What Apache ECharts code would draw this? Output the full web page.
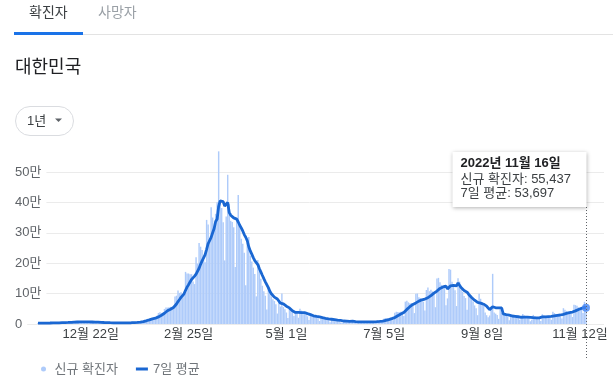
<!DOCTYPE html>
<html><head><meta charset="utf-8">
<script src="https://cdn.jsdelivr.net/npm/echarts@6/dist/echarts.min.js"></script>
<style>html,body{margin:0;padding:0;background:#fff}#c{width:613px;height:385px}</style>
</head><body><div id="c"></div>
<script>
// ---- Data (daily new cases, 2021-11-17 .. 2022-11-16) ----
const startDate = [2021, 11, 17];
const casesNov2021 = [3187, 3292, 3034, 3206, 2827, 2699, 2827, 4116, 3938, 3901, 4068, 3928, 3309, 3032];
const casesDec2021 = [5123, 5266, 4944, 5352, 5128, 4325, 4954, 7175, 7102, 7022, 6977, 6689, 5817, 5567, 7850, 7622, 7435, 7314, 6236, 5318, 5202, 7456, 6919, 6233, 5842, 5419, 4207, 3865, 5409, 4875, 5035];
const casesJan2022 = [4416, 3833, 3129, 3022, 4444, 4126, 3713, 3376, 3371, 3007, 3094, 4388, 4167, 4542, 4130, 4193, 3857, 4071, 5805, 6603, 6769, 7009, 7630, 7513, 8571, 13012, 14518, 16096, 17542, 17079, 18341];
const casesFeb2022 = [20270, 20908, 22907, 27443, 36362, 38691, 35286, 36717, 49567, 54122, 53926, 54941, 56431, 54619, 57177, 90443, 93135, 109831, 102211, 104829, 95362, 99573, 171452, 165890, 166209, 163566, 163865, 139626];
const casesMar2022 = [131421, 219241, 198803, 266853, 254327, 243628, 210716, 202721, 342446, 327549, 282987, 383665, 350190, 309790, 362338, 400741, 621328, 407017, 381454, 334708, 209169, 353980, 490881, 395598, 339514, 335580, 318130, 187213, 347554, 424641, 320743];
const casesApr2022 = [280273, 264171, 234301, 127190, 266135, 286294, 224820, 205333, 185566, 164481, 90928, 210755, 195419, 148443, 125846, 107916, 93001, 47743, 118504, 111319, 90867, 81058, 75449, 64725, 34370, 76787, 57464, 100000, 55507, 48771];
const casesMay2022 = [37771, 20084, 51131, 49064, 42296, 26714, 40064, 38570, 20601, 49933, 43925, 35906, 32451, 29581, 25434, 13296, 35117, 28130, 25125, 23956, 22335, 19293, 9975, 23425, 20993, 18798, 16584, 17191, 12654, 6143, 17182];
const casesJun2022 = [15782, 13358, 9896, 12542, 10060, 5022, 4742, 13338, 12155, 10009, 8440, 8828, 3823, 7382, 9434, 7995, 7198, 6253, 6068, 3530, 9313, 8979, 7488, 7237, 6781, 6241, 3423, 9891, 9594, 10463];
const casesJul2022 = [9528, 10715, 10059, 6252, 18147, 19371, 18511, 19323, 20410, 20286, 12693, 37360, 40266, 39194, 38882, 40342, 41310, 26299, 73582, 76402, 71170, 68632, 68551, 65433, 35883, 99327, 100285, 88384, 85286, 81995, 73589];
const casesAug2022 = [44689, 111789, 119922, 107894, 112901, 107310, 105507, 55292, 149897, 151792, 137241, 128714, 124592, 119603, 62078, 84128, 180803, 178574, 138812, 126666, 110666, 59046, 150802, 139339, 113371, 105493, 91802, 85295, 46824, 103961, 95604];
const casesSep2022 = [81573, 73952, 61000, 52000, 29000, 99800, 83000, 72000, 59000, 38000, 29000, 22000, 28000, 57000, 165000, 38000, 34000, 30000, 17000, 47000, 37000, 30000, 29000, 27000, 24000, 12000, 32000, 30000, 26000, 25000];
const casesOct2022 = [23000, 19000, 14000, 18000, 33000, 28000, 24000, 22000, 19000, 9000, 14000, 30000, 26000, 23000, 22000, 19000, 10000, 32000, 29000, 27000, 26000, 25000, 21000, 14000, 40000, 36000, 33000, 31000, 29000, 24000, 18000];
const casesNov2022 = [52000, 47000, 43000, 40000, 38000, 33000, 23000, 63000, 62000, 60000, 55000, 50000, 46000, 36000, 72873, 55437];

// ---- 7-day average ----
const avgNov2021 = [2700, 2750, 2800, 2850, 2900, 2950, 3010, 3143, 3235, 3359, 3482, 3640, 3727, 3756];
const avgDec2021 = [3900, 4090, 4239, 4422, 4593, 4739, 5013, 5306, 5569, 5865, 6098, 6321, 6534, 6621, 6718, 6792, 6851, 6899, 6834, 6763, 6711, 6655, 6554, 6383, 6172, 6056, 5897, 5706, 5413, 5121, 4950];
const avgJan2022 = [4746, 4519, 4365, 4245, 4107, 4000, 3811, 3662, 3596, 3579, 3589, 3581, 3587, 3705, 3813, 3930, 4051, 4191, 4393, 4741, 5059, 5470, 5961, 6483, 7126, 8156, 9287, 10619, 12124, 13474, 15021];
const avgFeb2022 = [16692, 17820, 19018, 20639, 23328, 26415, 28836, 31186, 35280, 39739, 43522, 46176, 48710, 51472, 54395, 60234, 65807, 73793, 80546, 87460, 93280, 99337, 110910, 121304, 129358, 138123, 146557, 152880];
const avgMar2022 = [157430, 164257, 168959, 183337, 196303, 207698, 217854, 228040, 245641, 264033, 266338, 284815, 300038, 314191, 336993, 345321, 387289, 405008, 404692, 402480, 388106, 386912, 399789, 367542, 357899, 351346, 348978, 345841, 344923, 335460, 324766];
const avgApr2022 = [316303, 306102, 294126, 285551, 273920, 254156, 240453, 229747, 218518, 208544, 203364, 195453, 182471, 171560, 160205, 149112, 138901, 132732, 119553, 107539, 99314, 92916, 88278, 84239, 82329, 76369, 68675, 69980, 66330, 62519];
const avgMay2022 = [58668, 56627, 52962, 51762, 43518, 39405, 38161, 38275, 38349, 38178, 37444, 36531, 37351, 35853, 33976, 32932, 30815, 28559, 27019, 25805, 24770, 23893, 23419, 21749, 20729, 19825, 18772, 18037, 17089, 16542, 15650];
const avgJun2022 = [14906, 14129, 13174, 12510, 12139, 11979, 10202, 9853, 9681, 9697, 9111, 8935, 8764, 9141, 8583, 7989, 7587, 7275, 6881, 6839, 7115, 7050, 6978, 6984, 7059, 7084, 7069, 7152, 7240, 7665];
const avgJul2022 = [7992, 8554, 9099, 9503, 10682, 12079, 13229, 14628, 16013, 17474, 18394, 21139, 24124, 27079, 29873, 32720, 35723, 37667, 42842, 48004, 52572, 56822, 60852, 64298, 65667, 69345, 72757, 75216, 77595, 79516, 80681];
const avgAug2022 = [81939, 83719, 86524, 89311, 93256, 96872, 101432, 102947, 108391, 112944, 117136, 119395, 121864, 123878, 124847, 115451, 119595, 125500, 126943, 127239, 125962, 125529, 135054, 129131, 119816, 115056, 110075, 106451, 104705, 98013, 91765];
const avgSep2022 = [87222, 82716, 78316, 73560, 71014, 70420, 68619, 67251, 65115, 61829, 58543, 57543, 47286, 43572, 56858, 53858, 53287, 53430, 52716, 55430, 52573, 33287, 32001, 31001, 30144, 29430, 27287, 26287, 25716, 25145];
const avgOct2022 = [24574, 23860, 24146, 22146, 22575, 22861, 22718, 22575, 22575, 21861, 21290, 20861, 20575, 20432, 20432, 20432, 20575, 23146, 23003, 23146, 23575, 24004, 24290, 24861, 26004, 27004, 27861, 28575, 29146, 29575, 30146];
const avgNov2022 = [31860, 33431, 34860, 36146, 37432, 38718, 39432, 41003, 43146, 45575, 47718, 49432, 51289, 53146, 54556, 53697];

const tickLabels = ['12월 22일', '2월 25일', '5월 1일', '7월 5일', '9월 8일', '11월 12일'];
const yTicks = [0, 100000, 200000, 300000, 400000, 500000];
const seriesNames = ['신규 확진자', '7일 평균'];

const cases = [].concat(casesNov2021, casesDec2021, casesJan2022, casesFeb2022, casesMar2022, casesApr2022,
  casesMay2022, casesJun2022, casesJul2022, casesAug2022, casesSep2022, casesOct2022, casesNov2022);
const avg = [].concat(avgNov2021, avgDec2021, avgJan2022, avgFeb2022, avgMar2022, avgApr2022,
  avgMay2022, avgJun2022, avgJul2022, avgAug2022, avgSep2022, avgOct2022, avgNov2022);

const dates = cases.map((_, i) => new Date(startDate[0], startDate[1] - 1, startDate[2] + i));
const categories = dates.map(d => (d.getMonth() + 1) + '월 ' + d.getDate() + '일');
const last = cases.length - 1;

const FONT = '"Liberation Sans", Arial, "Noto Sans CJK KR", sans-serif';
const YMAX = 568000;
const GTOP = 151.33, GBOTTOM = 61;

const chart = echarts.init(document.getElementById('c'), null, {renderer: 'canvas'});

const option = {
  animation: false,
  textStyle: {fontFamily: FONT},
  grid: [
    {left: 15, right: 9, top: GTOP, bottom: GBOTTOM},
    {left: 37.25, right: 26.25, top: GTOP, bottom: GBOTTOM}
  ],
  legend: {
    left: 36, top: 357.5, itemWidth: 12, itemHeight: 5, itemGap: 18,
    selectedMode: false,
    textStyle: {fontSize: 13, color: '#70757a', fontFamily: FONT},
    data: [
      {name: seriesNames[0], icon: 'circle'},
      {name: seriesNames[1], icon: 'path://M0,0H12V3H0Z'}
    ]
  },
  xAxis: [
    {gridIndex: 0, type: 'value', show: false, min: 0, max: 1},
    {gridIndex: 1, type: 'category', data: categories, boundaryGap: true,
      axisLine: {show: false}, axisTick: {show: false},
      axisLabel: {interval: (i, v) => tickLabels.includes(v), color: '#3c4043', fontSize: 13, margin: 4, fontFamily: FONT},
      splitLine: {show: false}}
  ],
  yAxis: [
    {gridIndex: 0, type: 'value', min: 0, max: YMAX, interval: 100000,
      axisLabel: {show: false}, axisLine: {show: false}, axisTick: {show: false},
      splitLine: {show: true, showMaxLine: false, lineStyle: {color: '#ebebeb', width: 1}}},
    {gridIndex: 1, type: 'value', min: 0, max: YMAX, interval: 100000, z: 3,
      axisLine: {show: false}, axisTick: {show: false}, splitLine: {show: false},
      axisLabel: {align: 'left', margin: 22.25, fontSize: 13, color: '#5f6368', fontFamily: FONT,
        showMaxLabel: false, backgroundColor: '#fff', padding: [2, 5, 2, 0],
        formatter: v => yTicks.includes(v) ? (v === 0 ? '0' : (v / 10000) + '만') : ''}}
  ],
  series: [
    {name: seriesNames[0], type: 'bar', xAxisIndex: 1, yAxisIndex: 1, data: cases,
      itemStyle: {color: '#aecbfa'}, barCategoryGap: '4%', silent: true, clip: true},
    {name: seriesNames[1], type: 'line', xAxisIndex: 1, yAxisIndex: 1, data: avg,
      showSymbol: false, symbol: 'none', smooth: false,
      lineStyle: {color: '#1a67d2', width: 2.8}, itemStyle: {color: '#1a67d2'}, z: 3, silent: true},
    {name: 'last', type: 'scatter', xAxisIndex: 1, yAxisIndex: 1,
      data: [[categories[last], avg[last]]], symbolSize: 8,
      itemStyle: {color: '#4285f4'}, z: 5, silent: true}
  ]
};
chart.setOption(option);

const p = chart.convertToPixel({gridIndex: 1}, [last, avg[last]]);
const lx = Math.round(p[0]) + 0.5;
const d = dates[last];
const fmt = n => n.toLocaleString('en-US');
const tipW = 134, tipH = 55, tipTop = 152;
const tipX = lx - tipW;

chart.setOption({
  graphic: {elements: [
    {type: 'text', style: {text: '확진자', x: 29, y: 13, fill: '#3c4043', fontSize: 14, fontFamily: FONT, verticalAlign: 'middle'}},
    {type: 'text', style: {text: '사망자', x: 98, y: 13, fill: '#9aa0a6', fontSize: 14, fontFamily: FONT, verticalAlign: 'middle'}},
    {type: 'rect', shape: {x: 14, y: 32, width: 69, height: 3}, style: {fill: '#1a73e8'}},
    {type: 'rect', shape: {x: 83, y: 34, width: 530, height: 1}, style: {fill: '#e3e3e3'}},
    {type: 'text', style: {text: '대한민국', x: 15, y: 68, fill: '#202124', fontSize: 18, fontFamily: FONT, verticalAlign: 'middle'}},
    {type: 'rect', shape: {x: 15.5, y: 106.5, width: 58, height: 29, r: 14.5}, style: {fill: '#fff', stroke: '#dadce0', lineWidth: 1}},
    {type: 'text', style: {text: '1년', x: 27, y: 121, fill: '#3c4043', fontSize: 13, fontFamily: FONT, verticalAlign: 'middle'}},
    {type: 'polygon', shape: {points: [[55, 118.5], [62, 118.5], [58.5, 122]]}, style: {fill: '#5f6368'}},
    {type: 'line', z: 9, shape: {x1: lx, y1: tipTop + tipH, x2: lx, y2: 360}, style: {stroke: '#5f6368', lineWidth: 1, lineDash: [1, 2]}},
    {type: 'rect', z: 10, shape: {x: tipX, y: tipTop, width: tipW, height: tipH},
      style: {fill: '#fff', shadowBlur: 4, shadowColor: 'rgba(0,0,0,0.3)', shadowOffsetY: 1}},
    {type: 'text', z: 11, style: {text: d.getFullYear() + '년 ' + (d.getMonth() + 1) + '월 ' + d.getDate() + '일',
      x: tipX + 8, y: tipTop + 11, fill: '#202124', fontSize: 13, fontWeight: 'bold', fontFamily: FONT, verticalAlign: 'middle'}},
    {type: 'text', z: 11, style: {text: seriesNames[0] + ': ' + fmt(cases[last]),
      x: tipX + 8, y: tipTop + 27, fill: '#3c4043', fontSize: 13, fontFamily: FONT, verticalAlign: 'middle'}},
    {type: 'text', z: 11, style: {text: seriesNames[1] + ': ' + fmt(avg[last]),
      x: tipX + 8, y: tipTop + 41, fill: '#3c4043', fontSize: 13, fontFamily: FONT, verticalAlign: 'middle'}}
  ]}
});
</script></body></html>
